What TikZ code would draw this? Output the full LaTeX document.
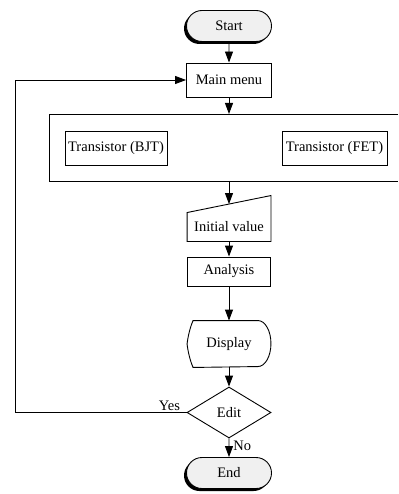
\documentclass[tikz,border=0pt]{standalone}
\usepackage{fontspec}
\setmainfont{Liberation Serif}
\usetikzlibrary{arrows.meta,shapes.geometric,shapes.misc,shadows,calc}

\begin{document}
\begin{tikzpicture}[x=1pt,y=1pt,yscale=-1,line width=0.9pt,
  font=\fontsize{14.5}{16}\selectfont,
  flow/.style={-{Triangle[length=11pt,width=8pt]}},
  terminal/.style={rounded rectangle, draw, fill=black!6, minimum width=85pt,
    minimum height=31pt, inner sep=0pt,
    drop shadow={shadow xshift=-2.5pt, shadow yshift=-2.5pt, fill=black, opacity=1}},
  process/.style={rectangle, draw, minimum height=34pt, inner sep=0pt},
  plain/.style={inner sep=0pt},
  tag/.style={inner sep=1pt}]
\useasboundingbox (0,0) rectangle (398,494);

% Terminal: start
\node [terminal] (start) at (229,26) {Start};
% Process: main menu
\node [process, minimum width=85pt] (menu) at (229,80) {Main menu};

% Frame round the device choices (open to the right)
\draw (398,114) -- (49,114) -- (49,181) -- (398,181);
\coordinate (frame top) at (229,114);
\coordinate (frame bottom) at (229,181);
\node [process, minimum width=102pt] (bjt) at (116,148) {Transistor (BJT)};
\node [process, minimum width=105pt] (fet) at (334.5,148) {Transistor (FET)};

% Manual input: initial value
\node [plain, minimum width=83pt, minimum height=28pt] (init) at (229,227) {Initial value};
\draw (init.south west) -- (init.south east) -- ($(init.north east)+(0,-17)$)
  -- (init.north west) -- cycle;
\coordinate (init top) at ($(init.north)+(0,-8.5)$);

% Process: analysis
\node [process, minimum width=83pt, minimum height=29pt] (ana) at (229,271.5) {Analysis};

% Display
\node [plain, minimum width=83pt, minimum height=46pt] (disp) at (229,344) {Display};
\draw ($(disp.north west)+(6,0)$) -- ($(disp.north east)+(-13,0)$)
  arc [start angle=-90, end angle=90, x radius=13, y radius=23]
  -- ($(disp.south west)+(6,0)$)
  .. controls ($(disp.south west)+(3,-7)$) and ($(disp.west)+(1,8)$) .. (disp.west)
  .. controls ($(disp.west)+(1,-8)$) and ($(disp.north west)+(3,7)$) .. cycle;

% Decision: edit
\node [diamond, draw, aspect=1.65, minimum width=84pt, minimum height=51pt,
  inner sep=0pt] (edit) at (229,412.5) {Edit};
% Terminal: end
\node [terminal] (end) at (229,473) {End};

% Connection
\draw [flow] (start) -- (menu);
\draw [flow] (menu) -- (frame top);
\draw [flow] (frame bottom) -- (init top);
\draw [flow] (init) -- (ana);
\draw [flow] (ana) -- (disp);
\draw [flow] (disp) -- (edit);
\draw [flow] (edit) -- node [tag, right, pos=0.38, xshift=3pt] {No} (end);
% Loop back to the menu
\coordinate (back) at (15.5,412.5);
\draw [flow] (edit.west) -- node [tag, above, pos=0.1] {Yes} (back) |- (menu.west);

\end{tikzpicture}
\end{document}
